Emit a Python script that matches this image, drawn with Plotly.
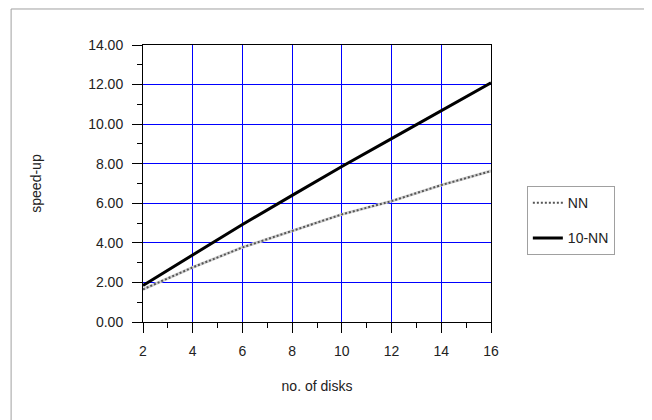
import plotly.graph_objects as go

disks = [2, 4, 6, 8, 10, 12, 14, 16]
nn = [1.65, 2.76, 3.77, 4.60, 5.44, 6.11, 6.92, 7.63]
knn = [1.85, 3.38, 4.93, 6.40, 7.86, 9.27, 10.67, 12.09]
y_ticks = [0, 2, 4, 6, 8, 10, 12, 14]
y_labels = ["0.00", "2.00", "4.00", "6.00", "8.00", "10.00", "12.00", "14.00"]
x_ticks = [2, 4, 6, 8, 10, 12, 14, 16]

FONT = "Liberation Sans, Arial, sans-serif"
TXT = "#222222"

fig = go.Figure()
# NN: hatched grey line (light base + dark dashes)
fig.add_trace(go.Scatter(x=disks, y=nn, mode="lines", name="NN", legendgroup="nn",
                         showlegend=False, line=dict(color="#d0d0d0", width=3)))
fig.add_trace(go.Scatter(x=disks, y=nn, mode="lines", name="NN", legendgroup="nn",
                         line=dict(color="#555555", width=2, dash="2px,2px")))
fig.add_trace(go.Scatter(x=disks, y=knn, mode="lines", name="10-NN",
                         line=dict(color="black", width=3)))

axis_common = dict(showline=True, linecolor="black", linewidth=1, mirror=True,
                   gridcolor="#0000ff", gridwidth=1, zeroline=False,
                   ticks="outside", ticklen=10, tickcolor="black", tickwidth=1,
                   ticklabelstandoff=6,
                   tickfont=dict(family=FONT, size=14, color=TXT))

fig.update_xaxes(range=[2, 16], tickvals=x_ticks,
                 minor=dict(ticks="outside", ticklen=5, tickcolor="black", dtick=1, tick0=1, showgrid=False),
                 title=dict(text="no. of disks", font=dict(family=FONT, size=14, color=TXT), standoff=23),
                 **axis_common)
fig.update_yaxes(range=[0, 14], tickvals=y_ticks, ticktext=y_labels,
                 minor=dict(ticks="outside", ticklen=5, tickcolor="black", dtick=1, tick0=1, showgrid=False),
                 title=dict(text="speed-up", font=dict(family=FONT, size=14, color=TXT), standoff=43),
                 **axis_common)

fig.add_shape(type="rect", xref="paper", yref="paper",
              x0=-0.379, x1=1.443, y0=-0.45, y1=1.13,
              line=dict(color="#a0a0a0", width=1), fillcolor="rgba(0,0,0,0)", layer="below")

fig.update_layout(
    width=644, height=412,
    margin=dict(l=135, r=161, t=37, b=98),
    paper_bgcolor="white", plot_bgcolor="white",
    font=dict(family=FONT, size=13, color=TXT),
    legend=dict(x=1.103, y=0.366, xanchor="left", yanchor="middle",
                bordercolor="#a0a0a0", borderwidth=1, bgcolor="white",
                font=dict(family=FONT, size=14, color=TXT),
                itemwidth=30, tracegroupgap=14),
)

fig.write_html("out.html")
